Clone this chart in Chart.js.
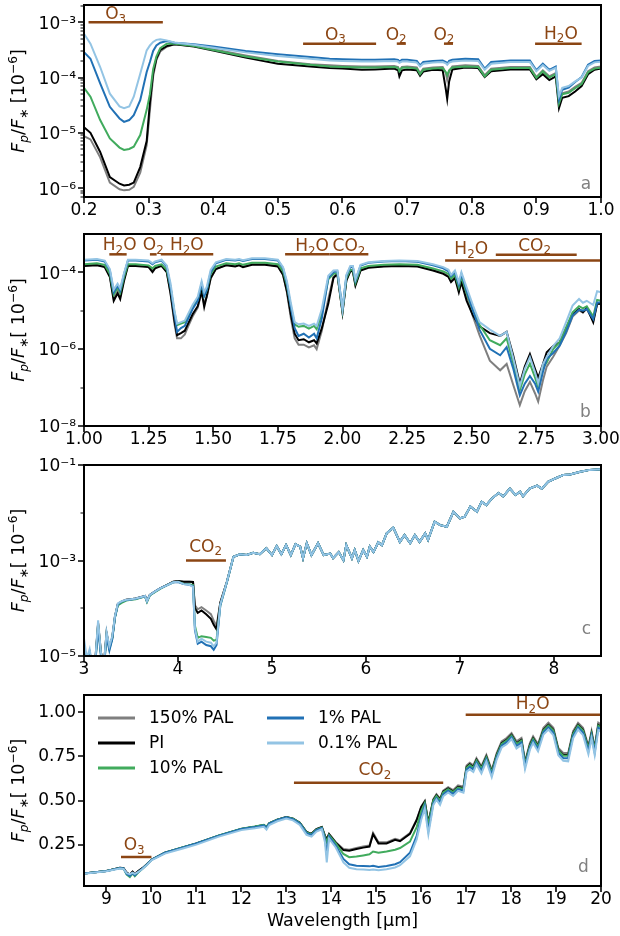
<!DOCTYPE html>
<html>
<head>
<meta charset="utf-8">
<script src="https://cdn.jsdelivr.net/npm/chart.js@4.4.1/dist/chart.umd.min.js"></script>
<style>
  html, body { margin: 0; padding: 0; background: #fff; }
  #wrap { position: relative; width: 620px; height: 936px; overflow: hidden; }
  canvas { position: absolute; left: 0; }
</style>
</head>
<body>
<div id="wrap">
  <canvas id="panelA" width="620" height="227" style="top:0px"></canvas>
  <canvas id="panelB" width="620" height="242" style="top:214px"></canvas>
  <canvas id="panelC" width="620" height="241" style="top:445px"></canvas>
  <canvas id="panelD" width="620" height="261" style="top:675px"></canvas>
</div>
<script>
const seriesNames = ['150% PAL', 'PI', '10% PAL', '1% PAL', '0.1% PAL'];
const seriesColors = ['#7f7f7f', '#000000', '#41ab5d', '#2171b5', '#93c4e4'];
const drawOrder = [4, 3, 2, 1, 0];

// ---- panel a : UV / visible ----
const waveA = [0.20,0.21,0.225,0.24,0.255,0.262,0.27,0.277,0.287,0.297,0.302,0.307,0.312,0.318,0.328,0.34,
  0.37,0.40,0.45,0.50,0.55,0.58,0.60,0.63,0.65,0.68,
  0.686,0.688,0.692,0.70,0.715,0.72,0.725,0.74,0.755,
  0.760,0.762,0.765,0.77,0.79,0.81,0.82,0.83,0.86,0.89,
  0.90,0.91,0.92,0.93,0.935,0.94,0.95,0.96,0.97,0.98,0.99,1.00];
const fluxA_150 = [8.7e-6,7.6e-6,3.6e-6,1.26e-6,9.5e-7,9.1e-7,9.3e-7,1.05e-6,1.9e-6,6.0e-6,2.6e-5,1.05e-4,2.09e-4,2.95e-4,3.6e-4,4.0e-4,
  3.72e-4,3.24e-4,2.51e-4,2.0e-4,1.74e-4,1.66e-4,1.62e-4,1.58e-4,1.58e-4,1.62e-4,
  1.55e-4,1.32e-4,1.55e-4,1.58e-4,1.52e-4,1.2e-4,1.45e-4,1.52e-4,1.55e-4,
  1.2e-4,9.0e-5,1.3e-4,1.58e-4,1.66e-4,1.62e-4,1.1e-4,1.45e-4,1.55e-4,1.55e-4,
  1.02e-4,1.35e-4,1.05e-4,1.2e-4,3.5e-5,5.2e-5,5.6e-5,6.8e-5,8.0e-5,1.3e-4,1.52e-4,1.58e-4];
const fluxA_PI = [1.26e-5,1.0e-5,4.5e-6,1.58e-6,1.2e-6,1.12e-6,1.15e-6,1.26e-6,2.4e-6,7.1e-6,3.5e-5,1.2e-4,2.19e-4,3.16e-4,3.7e-4,4.0e-4,
  3.63e-4,3.09e-4,2.29e-4,1.78e-4,1.58e-4,1.48e-4,1.45e-4,1.38e-4,1.4e-4,1.45e-4,
  1.35e-4,1.05e-4,1.35e-4,1.4e-4,1.35e-4,1.08e-4,1.28e-4,1.38e-4,1.35e-4,
  6.0e-5,4.1e-5,8.5e-5,1.4e-4,1.52e-4,1.48e-4,1.02e-4,1.3e-4,1.4e-4,1.4e-4,
  9.3e-5,1.15e-4,9.0e-5,1.05e-4,2.8e-5,4.3e-5,4.6e-5,5.6e-5,7.0e-5,1.15e-4,1.38e-4,1.45e-4];
const fluxA_10 = [6.5e-5,4.5e-5,1.7e-5,7.9e-6,5.4e-6,4.9e-6,5.1e-6,5.6e-6,9.1e-6,2.6e-5,5.0e-5,1.41e-4,2.4e-4,3.39e-4,4.07e-4,4.07e-4,
  3.72e-4,3.16e-4,2.4e-4,1.95e-4,1.7e-4,1.58e-4,1.55e-4,1.52e-4,1.52e-4,1.55e-4,
  1.5e-4,1.3e-4,1.5e-4,1.52e-4,1.45e-4,1.15e-4,1.38e-4,1.45e-4,1.48e-4,
  1.25e-4,1.1e-4,1.35e-4,1.52e-4,1.58e-4,1.55e-4,1.05e-4,1.38e-4,1.48e-4,1.48e-4,
  9.8e-5,1.3e-4,1.0e-4,1.15e-4,3.4e-5,5.0e-5,5.3e-5,6.4e-5,7.6e-5,1.25e-4,1.45e-4,1.5e-4];
const fluxA_1 = [2.88e-4,2.19e-4,7.8e-5,2.95e-5,1.82e-5,1.58e-5,1.7e-5,2.09e-5,3.9e-5,1.26e-4,1.91e-4,3.02e-4,3.8e-4,4.27e-4,4.57e-4,4.27e-4,
  3.98e-4,3.63e-4,3.02e-4,2.63e-4,2.34e-4,2.19e-4,2.14e-4,2.09e-4,2.09e-4,2.14e-4,
  2.09e-4,1.95e-4,2.09e-4,2.09e-4,2.0e-4,1.66e-4,1.91e-4,2.0e-4,2.04e-4,
  1.91e-4,1.78e-4,2.0e-4,2.09e-4,2.19e-4,2.14e-4,1.45e-4,1.91e-4,2.04e-4,2.04e-4,
  1.35e-4,1.78e-4,1.38e-4,1.58e-4,3.98e-5,6.0e-5,6.6e-5,8.3e-5,1.02e-4,1.7e-4,2.0e-4,2.04e-4];
const fluxA_01 = [6.2e-4,4.1e-4,1.55e-4,5.1e-5,3.0e-5,2.8e-5,3.0e-5,4.5e-5,1.17e-4,3.1e-4,3.8e-4,4.4e-4,4.8e-4,4.9e-4,4.7e-4,4.3e-4,
  3.9e-4,3.45e-4,2.85e-4,2.45e-4,2.18e-4,2.04e-4,1.99e-4,1.95e-4,1.95e-4,1.99e-4,
  1.95e-4,1.85e-4,1.95e-4,1.95e-4,1.86e-4,1.58e-4,1.78e-4,1.86e-4,1.9e-4,
  1.8e-4,1.7e-4,1.86e-4,1.95e-4,2.04e-4,1.99e-4,1.38e-4,1.78e-4,1.9e-4,1.9e-4,
  1.3e-4,1.68e-4,1.32e-4,1.5e-4,4.6e-5,6.5e-5,7.0e-5,8.5e-5,1.0e-4,1.62e-4,1.88e-4,1.92e-4];

// ---- panel b : near infrared ----
const waveB = [1.00,1.05,1.08,1.10,1.115,1.13,1.14,1.155,1.17,1.20,
  1.25,1.265,1.275,1.30,1.32,1.335,1.35,1.36,1.375,1.39,
  1.40,1.42,1.44,1.455,1.465,1.475,1.49,1.51,1.55,1.585,
  1.60,1.615,1.65,1.70,1.75,1.77,1.785,1.80,1.815,1.83,
  1.85,1.87,1.89,1.90,1.92,1.945,1.965,1.98,2.00,2.015,
  2.03,2.04,2.05,2.07,2.10,2.16,2.22,2.29,2.35,2.39,
  2.41,2.42,2.435,2.45,2.46,2.48,2.505,2.53,2.57,2.61,
  2.635,2.66,2.686,2.705,2.725,2.745,2.757,2.775,2.79,2.815,
  2.84,2.865,2.89,2.915,2.93,2.945,2.97,2.985,3.00];
const fluxB_150 = [1.5e-4,1.55e-4,1.4e-4,8.0e-5,2.1e-5,3.2e-5,2.3e-5,6.5e-5,1.5e-4,1.5e-4,
  1.4e-4,1.1e-4,1.3e-4,1.5e-4,1.05e-4,2.6e-5,4.5e-6,1.9e-6,1.9e-6,2.4e-6,
  3.5e-6,7.0e-6,1.2e-5,3.0e-5,1.5e-5,2.3e-5,6.8e-5,1.2e-4,1.55e-4,1.45e-4,
  1.55e-4,1.4e-4,1.6e-4,1.6e-4,1.45e-4,8.5e-5,3.0e-5,6.5e-6,1.9e-6,1.3e-6,
  1.3e-6,1.1e-6,1.25e-6,1.0e-6,3.0e-6,2.0e-5,7.5e-5,9.0e-5,9.0e-6,6.3e-5,
  1.1e-4,1.1e-4,4.8e-5,1.15e-4,1.35e-4,1.45e-4,1.5e-4,1.45e-4,1.15e-4,9.5e-5,
  8.0e-5,6.0e-5,7.5e-5,3.4e-5,6.0e-5,2.2e-5,7.0e-6,2.3e-6,5.0e-7,2.8e-7,
  4.1e-7,1.2e-7,3.5e-8,8.0e-8,1.4e-7,7.0e-8,4.3e-8,1.5e-7,3.5e-7,6.3e-7,
  1.23e-6,2.6e-6,7.0e-6,1.0e-5,9.0e-6,1.1e-5,5.5e-6,1.5e-5,1.5e-5];
const fluxB_PI = [1.45e-4,1.5e-4,1.35e-4,7.5e-5,1.8e-5,2.8e-5,2.0e-5,6.0e-5,1.45e-4,1.45e-4,
  1.35e-4,1.0e-4,1.25e-4,1.45e-4,1.0e-4,2.8e-5,5.5e-6,2.3e-6,2.6e-6,3.0e-6,
  4.2e-6,8.0e-6,1.3e-5,3.2e-5,1.25e-5,2.4e-5,7.0e-5,1.2e-4,1.5e-4,1.4e-4,
  1.5e-4,1.35e-4,1.55e-4,1.55e-4,1.4e-4,8.5e-5,3.2e-5,8.0e-6,2.5e-6,1.7e-6,
  1.8e-6,1.5e-6,1.7e-6,1.4e-6,3.5e-6,1.5e-5,7.0e-5,9.0e-5,9.0e-6,6.0e-5,
  1.05e-4,1.05e-4,4.5e-5,1.1e-4,1.3e-4,1.4e-4,1.45e-4,1.4e-4,1.1e-4,9.0e-5,
  7.5e-5,5.5e-5,7.0e-5,3.0e-5,5.5e-5,1.8e-5,7.4e-6,3.9e-6,2.6e-6,2.2e-6,
  2.8e-6,7.0e-7,1.25e-7,3.5e-7,7.4e-7,3.0e-7,1.8e-7,4.0e-7,8.3e-7,1.2e-6,
  1.5e-6,3.5e-6,8.0e-6,1.1e-5,9.0e-6,1.2e-5,5.0e-6,1.5e-5,1.5e-5];
const fluxB_10 = [1.6e-4,1.7e-4,1.55e-4,9.0e-5,2.6e-5,4.0e-5,2.9e-5,7.5e-5,1.6e-4,1.6e-4,
  1.5e-4,1.25e-4,1.45e-4,1.6e-4,1.15e-4,4.0e-5,9.0e-6,4.2e-6,4.6e-6,5.0e-6,
  6.5e-6,1.2e-5,1.9e-5,4.6e-5,2.4e-5,3.4e-5,9.0e-5,1.4e-4,1.7e-4,1.6e-4,
  1.7e-4,1.55e-4,1.75e-4,1.75e-4,1.6e-4,1.05e-4,4.5e-5,1.3e-5,4.4e-6,3.8e-6,
  4.0e-6,3.4e-6,4.0e-6,3.3e-6,8.5e-6,6.5e-5,9.0e-5,9.5e-5,1.0e-5,7.0e-5,
  1.15e-4,1.15e-4,5.2e-5,1.25e-4,1.45e-4,1.55e-4,1.6e-4,1.55e-4,1.25e-4,1.05e-4,
  9.0e-5,6.8e-5,8.5e-5,4.0e-5,7.5e-5,2.9e-5,1.0e-5,4.3e-6,1.7e-6,1.26e-6,
  1.9e-6,4.5e-7,8.5e-8,2.2e-7,4.2e-7,1.8e-7,1.0e-7,3.2e-7,4.5e-7,1.0e-6,
  1.5e-6,3.6e-6,9.0e-6,1.3e-5,1.15e-5,1.3e-5,7.0e-6,1.9e-5,1.8e-5];
const fluxB_1 = [2.0e-4,2.1e-4,1.9e-4,1.12e-4,3.0e-5,4.5e-5,3.3e-5,8.9e-5,2.0e-4,2.0e-4,
  1.9e-4,1.6e-4,1.8e-4,2.0e-4,1.4e-4,4.0e-5,7.9e-6,2.8e-6,3.5e-6,4.0e-6,
  5.6e-6,1.1e-5,1.8e-5,5.0e-5,2.4e-5,3.5e-5,1.0e-4,1.7e-4,2.1e-4,2.0e-4,
  2.1e-4,1.95e-4,2.2e-4,2.2e-4,2.0e-4,1.26e-4,5.0e-5,1.26e-5,3.5e-6,2.2e-6,
  2.5e-6,2.0e-6,2.5e-6,1.9e-6,6.3e-6,7.1e-5,1.0e-4,1.05e-4,1.12e-5,7.9e-5,
  1.35e-4,1.38e-4,6.0e-5,1.48e-4,1.74e-4,1.9e-4,1.95e-4,1.86e-4,1.5e-4,1.26e-4,
  1.05e-4,7.9e-5,1.0e-4,4.7e-5,8.9e-5,3.3e-5,1.0e-5,3.2e-6,1.02e-6,6.9e-7,
  1.12e-6,3.2e-7,6.3e-8,1.26e-7,2.0e-7,1.26e-7,7.8e-8,2.5e-7,5.6e-7,7.9e-7,
  1.23e-6,2.8e-6,7.4e-6,1.05e-5,1.0e-5,1.1e-5,6.0e-6,1.6e-5,1.66e-5];
const fluxB_01 = [2.1e-4,2.2e-4,2.0e-4,1.2e-4,3.5e-5,5.0e-5,3.8e-5,9.5e-5,2.1e-4,2.1e-4,
  2.0e-4,1.7e-4,1.9e-4,2.1e-4,1.5e-4,5.0e-5,1.0e-5,4.6e-6,5.0e-6,5.5e-6,
  7.5e-6,1.4e-5,2.3e-5,5.8e-5,3.0e-5,4.2e-5,1.15e-4,1.8e-4,2.2e-4,2.1e-4,
  2.2e-4,2.05e-4,2.3e-4,2.3e-4,2.1e-4,1.35e-4,5.8e-5,1.6e-5,5.0e-6,4.4e-6,
  4.6e-6,4.0e-6,4.6e-6,4.0e-6,1.1e-5,8.0e-5,1.1e-4,1.12e-4,1.1e-5,8.5e-5,
  1.45e-4,1.45e-4,6.5e-5,1.55e-4,1.8e-4,1.95e-4,2.0e-4,1.95e-4,1.6e-4,1.35e-4,
  1.15e-4,8.5e-5,1.1e-4,5.5e-5,1.0e-4,4.0e-5,1.35e-5,5.0e-6,3.2e-6,2.2e-6,
  2.8e-6,6.0e-7,1.1e-7,3.0e-7,6.2e-7,2.5e-7,1.3e-7,4.0e-7,6.3e-7,1.2e-6,
  1.9e-6,5.0e-6,1.35e-5,2.0e-5,1.6e-5,1.8e-5,1.4e-5,3.2e-5,3.0e-5];

// ---- panel c : 3 - 8.5 micron ----
const waveC = [3.00,3.03,3.06,3.09,3.12,3.15,3.18,3.21,3.24,3.27,3.30,3.33,3.36,3.40,3.45,3.50,3.55,3.60,3.65,3.67,
  3.70,3.75,3.81,3.88,3.95,4.00,4.06,4.12,4.16,4.18,4.21,4.25,4.30,4.35,4.38,4.41,4.45,4.52,
  4.59,4.66,4.73,4.80,4.87,4.94,5.00,5.05,5.10,5.15,5.20,5.25,
  5.30,5.33,5.37,5.42,5.49,5.55,5.62,5.65,5.71,5.76,
  5.79,5.85,5.88,5.92,5.97,6.01,6.04,6.08,6.13,6.17,
  6.22,6.29,6.36,6.41,6.47,6.52,6.57,6.63,6.66,6.73,
  6.79,6.86,6.93,7.00,7.05,7.11,7.18,7.23,7.28,7.34,
  7.41,7.46,7.53,7.59,7.64,7.67,7.74,7.82,7.87,7.94,
  8.03,8.10,8.17,8.28,8.38,8.50];
// short-wave part differs between runs, long-wave part (4.59 um onward) is shared
const fluxC_150_low = [1.5e-5,9e-6,1.2e-5,6e-6,8e-6,4.8e-5,1.2e-5,6e-6,3.0e-5,1.5e-5,2.4e-5,6.8e-5,1.22e-4,1.38e-4,1.5e-4,1.55e-4,1.6e-4,1.7e-4,1.8e-4,1.4e-4,
  1.9e-4,2.2e-4,2.6e-4,3.05e-4,3.6e-4,3.7e-4,3.6e-4,3.6e-4,3.55e-4,1.15e-4,9.5e-5,1.05e-4,9.0e-5,7.5e-5,5.5e-5,4.2e-5,1.3e-4,3.6e-4];
const fluxC_PI_low = [1.5e-5,9e-6,1.2e-5,6e-6,8e-6,4.8e-5,1.2e-5,6e-6,3.0e-5,1.5e-5,2.4e-5,6.8e-5,1.22e-4,1.38e-4,1.5e-4,1.55e-4,1.6e-4,1.7e-4,1.8e-4,1.4e-4,
  1.9e-4,2.2e-4,2.6e-4,3.05e-4,3.6e-4,3.7e-4,3.6e-4,3.6e-4,3.55e-4,1.0e-4,8.0e-5,9.0e-5,7.5e-5,6.0e-5,4.5e-5,3.6e-5,1.3e-4,3.6e-4];
const fluxC_10_low = [1.3e-5,8e-6,1.1e-5,5e-6,7e-6,4.5e-5,1.1e-5,5e-6,2.8e-5,1.4e-5,2.3e-5,6.5e-5,1.15e-4,1.3e-4,1.45e-4,1.5e-4,1.55e-4,1.65e-4,1.75e-4,1.35e-4,
  1.85e-4,2.15e-4,2.55e-4,3.0e-4,3.5e-4,3.6e-4,3.25e-4,3.2e-4,3.05e-4,4.3e-5,2.4e-5,2.6e-5,2.5e-5,2.4e-5,2.1e-5,2.2e-5,1.15e-4,3.5e-4];
const fluxC_1_low = [1.2e-5,7e-6,1.0e-5,5e-6,7e-6,4.0e-5,1.0e-5,5e-6,2.6e-5,1.3e-5,2.2e-5,6.5e-5,1.2e-4,1.38e-4,1.48e-4,1.53e-4,1.58e-4,1.68e-4,1.78e-4,1.4e-4,
  1.88e-4,2.2e-4,2.6e-4,3.0e-4,3.5e-4,3.55e-4,3.2e-4,3.1e-4,2.9e-4,3.5e-5,1.8e-5,2.0e-5,1.7e-5,1.6e-5,1.35e-5,1.7e-5,1.15e-4,3.5e-4];
const fluxC_01_low = [2.3e-5,9e-6,1.4e-5,6e-6,8e-6,5.6e-5,1.2e-5,6e-6,3.2e-5,1.6e-5,2.6e-5,7e-5,1.26e-4,1.4e-4,1.5e-4,1.55e-4,1.6e-4,1.7e-4,1.8e-4,1.4e-4,
  1.9e-4,2.2e-4,2.6e-4,3.0e-4,3.5e-4,3.6e-4,3.2e-4,3.1e-4,2.8e-4,3.8e-5,2.0e-5,2.3e-5,2.0e-5,1.9e-5,1.6e-5,1.9e-5,1.2e-4,3.6e-4];
const fluxC_tail = [1.2e-3,1.35e-3,1.3e-3,1.45e-3,1.35e-3,1.8e-3,1.3e-3,2.0e-3,1.35e-3,2.1e-3,1.3e-3,2.2e-3,
  1.95e-3,1.12e-3,2.3e-3,1.3e-3,2.3e-3,1.3e-3,1.4e-3,1.12e-3,1.5e-3,1.02e-3,
  2.1e-3,1.12e-3,1.66e-3,9.8e-4,1.66e-3,1.2e-3,1.95e-3,1.5e-3,2.4e-3,2.1e-3,
  3.7e-3,4.9e-3,2.45e-3,3.4e-3,2.3e-3,3.4e-3,2.45e-3,3.7e-3,2.7e-3,6.5e-3,
  5.5e-3,5.1e-3,1.05e-2,7.6e-3,8.3e-3,1.35e-2,1.05e-2,1.7e-2,1.45e-2,2.0e-2,
  2.6e-2,2.2e-2,3.2e-2,2.35e-2,2.75e-2,2.2e-2,3.2e-2,3.7e-2,3.2e-2,4.5e-2,
  5.4e-2,6.2e-2,6.3e-2,7.2e-2,7.9e-2,8.1e-2];

// ---- panel d : thermal infrared (linear) ----
const waveD = [8.5,9.0,9.3,9.38,9.45,9.52,9.58,9.63,9.7,9.8,
  9.9,10.0,10.3,10.7,11.0,11.5,12.0,12.3,12.5,12.56,
  12.62,12.8,13.0,13.15,13.3,13.45,13.56,13.67,13.79,13.86,
  13.9,13.95,14.1,14.27,14.4,14.56,14.71,14.85,14.93,15.05,
  15.23,15.42,15.53,15.75,15.9,16.0,16.08,16.16,16.27,16.34,
  16.42,16.49,16.6,16.71,16.82,16.94,17.01,17.08,17.16,17.23,
  17.34,17.45,17.57,17.68,17.79,17.9,18.01,18.12,18.23,18.31,
  18.42,18.49,18.6,18.72,18.83,18.94,19.05,19.16,19.27,19.38,
  19.49,19.6,19.72,19.79,19.86,19.94,20.0];
const fluxD_150 = [0.087,0.102,0.120,0.118,0.092,0.082,0.098,0.085,0.100,0.118,
  0.140,0.165,0.205,0.235,0.257,0.302,0.340,0.352,0.362,0.350,
  0.372,0.392,0.407,0.398,0.375,0.322,0.312,0.338,0.350,0.300,
  0.285,0.312,0.265,0.226,0.222,0.232,0.240,0.246,0.318,0.264,
  0.264,0.284,0.276,0.316,0.392,0.465,0.498,0.376,0.508,0.536,
  0.511,0.556,0.576,0.559,0.586,0.578,0.698,0.714,0.699,0.740,
  0.694,0.758,0.672,0.768,0.835,0.854,0.882,0.835,0.854,0.721,
  0.826,0.863,0.819,0.912,0.940,0.912,0.798,0.769,0.769,0.893,
  0.940,0.912,0.808,0.893,0.801,0.940,0.930];
const fluxD_PI = [0.087,0.102,0.120,0.118,0.092,0.082,0.098,0.085,0.100,0.118,
  0.140,0.165,0.205,0.235,0.257,0.302,0.340,0.352,0.362,0.350,
  0.372,0.392,0.407,0.398,0.375,0.322,0.312,0.338,0.350,0.300,
  0.280,0.310,0.262,0.220,0.216,0.226,0.234,0.240,0.310,0.258,
  0.258,0.278,0.270,0.312,0.390,0.462,0.494,0.372,0.503,0.530,
  0.505,0.550,0.569,0.552,0.578,0.570,0.690,0.705,0.690,0.730,
  0.685,0.748,0.663,0.758,0.824,0.843,0.871,0.824,0.843,0.711,
  0.815,0.852,0.808,0.900,0.928,0.900,0.787,0.758,0.758,0.881,
  0.928,0.900,0.797,0.881,0.790,0.928,0.918];
const fluxD_10 = [0.087,0.102,0.118,0.115,0.082,0.068,0.088,0.072,0.092,0.114,
  0.138,0.165,0.206,0.236,0.258,0.303,0.341,0.353,0.363,0.351,
  0.372,0.392,0.406,0.397,0.373,0.320,0.310,0.336,0.348,0.295,
  0.265,0.305,0.258,0.198,0.180,0.184,0.190,0.196,0.212,0.205,
  0.212,0.222,0.232,0.268,0.350,0.440,0.485,0.365,0.498,0.526,
  0.500,0.546,0.565,0.548,0.574,0.566,0.686,0.701,0.686,0.726,
  0.681,0.744,0.659,0.754,0.820,0.839,0.867,0.820,0.839,0.707,
  0.811,0.848,0.804,0.896,0.924,0.896,0.783,0.754,0.754,0.877,
  0.924,0.896,0.793,0.877,0.786,0.924,0.914];
const fluxD_1 = [0.087,0.102,0.119,0.116,0.085,0.074,0.090,0.077,0.095,0.116,
  0.139,0.165,0.205,0.235,0.257,0.302,0.340,0.350,0.360,0.346,
  0.370,0.390,0.405,0.395,0.370,0.316,0.306,0.333,0.345,0.285,
  0.200,0.298,0.245,0.170,0.140,0.132,0.130,0.128,0.132,0.125,
  0.130,0.140,0.152,0.205,0.300,0.410,0.470,0.330,0.485,0.515,
  0.488,0.535,0.556,0.538,0.565,0.556,0.676,0.690,0.676,0.716,
  0.668,0.734,0.646,0.744,0.810,0.829,0.858,0.808,0.828,0.694,
  0.800,0.838,0.792,0.886,0.914,0.884,0.770,0.740,0.740,0.866,
  0.914,0.884,0.780,0.866,0.772,0.912,0.902];
const fluxD_01 = [0.086,0.100,0.116,0.113,0.090,0.084,0.092,0.086,0.095,0.113,
  0.136,0.162,0.200,0.229,0.251,0.296,0.333,0.343,0.352,0.336,
  0.362,0.383,0.398,0.388,0.362,0.306,0.296,0.325,0.338,0.265,
  0.150,0.285,0.235,0.150,0.120,0.112,0.110,0.108,0.110,0.106,
  0.112,0.122,0.135,0.185,0.280,0.390,0.455,0.310,0.475,0.505,
  0.476,0.524,0.546,0.526,0.555,0.545,0.664,0.676,0.662,0.704,
  0.654,0.722,0.632,0.732,0.800,0.818,0.848,0.795,0.815,0.678,
  0.788,0.826,0.778,0.874,0.902,0.870,0.756,0.725,0.722,0.852,
  0.902,0.870,0.762,0.852,0.757,0.898,0.888];

// tick values
const xTicksA = [0.2,0.3,0.4,0.5,0.6,0.7,0.8,0.9,1.0];
const xTicksB = [1.0,1.25,1.5,1.75,2.0,2.25,2.5,2.75,3.0];
const xTicksC = [3,4,5,6,7,8];
const xTicksD = [9,10,11,12,13,14,15,16,17,18,19,20];
const yTicksA = [1e-6,1e-5,1e-4,1e-3];
const yTicksB = [1e-8,1e-6,1e-4];
const yTicksC = [1e-5,1e-3,1e-1];
const yTicksD = [0.25,0.5,0.75,1.0];

// absorption band markers
const bandsA = [
  { text: 'O_3', from: 0.207, to: 0.322, y: 1.0e-3, labelX: 0.249, lift: 3 },
  { text: 'O_3', from: 0.539, to: 0.652, y: 4.1e-4, labelX: 0.589, lift: 4 },
  { text: 'O_2', from: 0.684, to: 0.698, y: 4.1e-4, labelX: 0.683, lift: 4 },
  { text: 'O_2', from: 0.757, to: 0.771, y: 4.1e-4, labelX: 0.757, lift: 4 },
  { text: 'H_2O', from: 0.898, to: 0.970, y: 4.1e-4, labelX: 0.938, lift: 5 }
];
const bandsB = [
  { text: 'H_2O', from: 1.098, to: 1.165, y: 2.9e-4, labelX: 1.138, lift: 4 },
  { text: 'O_2', from: 1.255, to: 1.281, y: 2.9e-4, labelX: 1.268, lift: 4 },
  { text: 'H_2O', from: 1.297, to: 1.50, y: 2.9e-4, labelX: 1.398, lift: 4 },
  { text: 'H_2O', from: 1.778, to: 1.95, y: 2.9e-4, labelX: 1.882, lift: 3 },
  { text: 'CO_2', from: 1.95, to: 2.10, y: 2.9e-4, labelX: 2.025, lift: 3 },
  { text: 'H_2O', from: 2.397, to: 3.0, y: 2.0e-4, labelX: 2.498, lift: 6.5 },
  { text: 'CO_2', from: 2.593, to: 2.906, y: 2.85e-4, labelX: 2.743, lift: 4 }
];
const bandsC = [
  { text: 'CO_2', from: 4.085, to: 4.51, y: 1.0e-3, labelX: 4.293, lift: 9 }
];
const bandsD = [
  { text: 'O_3', from: 9.323, to: 10.0, y: 0.181, labelX: 9.616, lift: 6.5 },
  { text: 'CO_2', from: 13.17, to: 16.49, y: 0.601, labelX: 14.97, lift: 7.5 },
  { text: 'H_2O', from: 16.99, to: 20.0, y: 0.985, labelX: 18.48, lift: 5.5 }
];

Chart.defaults.font.family = '"DejaVu Sans", sans-serif';
Chart.defaults.font.size = 17;
Chart.defaults.color = '#000';

const FONT = '"DejaVu Sans"';
const BROWN = '#8b4513';
const supDigits = '⁰¹²³⁴⁵⁶⁷⁸⁹';

function powLabel(v) {
  const e = Math.round(Math.log10(v));
  const digits = String(Math.abs(e)).split('').map(d => supDigits[+d]).join('');
  return '10' + (e < 0 ? '⁻' : '') + digits;
}

function minorLog(lo, hi) {
  const out = [];
  for (let e = -9; e <= 0; e++) {
    for (let m = 2; m <= 9; m++) {
      const v = m * Math.pow(10, e);
      if (v > lo && v < hi) out.push(v);
    }
  }
  return out;
}

// text with sub/superscripts
function parseLabel(str) {
  const parts = [];
  for (let i = 0; i < str.length; i++) {
    if (str[i] === '_') { parts.push({ t: str[i + 1], sub: true }); i++; }
    else parts.push({ t: str[i] });
  }
  return parts;
}
function partFont(p, size) {
  const s = (p.sub || p.sup) ? size * 0.7 : size;
  return (p.it ? 'italic ' : '') + s + 'px ' + FONT;
}
function richWidth(ctx, parts, size) {
  let w = 0;
  parts.forEach(p => { ctx.font = partFont(p, size); w += ctx.measureText(p.t).width; });
  return w;
}
function drawRich(ctx, parts, x, y, size, align) {
  let cx = align === 'center' ? x - richWidth(ctx, parts, size) / 2 : x;
  ctx.textAlign = 'left';
  ctx.textBaseline = 'alphabetic';
  parts.forEach(p => {
    ctx.font = partFont(p, size);
    const dy = p.sub ? size * 0.22 : (p.sup ? -size * 0.42 : 0);
    ctx.fillText(p.t, cx, y + dy);
    cx += ctx.measureText(p.t).width;
  });
}

function yTitleParts(spaceFirst) {
  return [
    { t: 'F', it: true }, { t: 'p', it: true, sub: true }, { t: '/' },
    { t: 'F', it: true }, { t: '∗', sub: true },
    { t: spaceFirst ? ' [10' : '[ 10' }, { t: '−6', sup: true }, { t: ']' }
  ];
}

function decorPlugin(p) {
  return {
    id: 'decor' + p.id,
    afterDatasetsDraw(chart) {
      const ctx = chart.ctx, a = chart.chartArea;
      const xs = chart.scales.x, ys = chart.scales.y;
      ctx.save();

      // band markers
      ctx.strokeStyle = BROWN;
      ctx.fillStyle = BROWN;
      ctx.lineWidth = 2.5;
      p.bands.forEach(b => {
        const y = ys.getPixelForValue(b.y);
        ctx.beginPath();
        ctx.moveTo(xs.getPixelForValue(b.from), y);
        ctx.lineTo(xs.getPixelForValue(b.to), y);
        ctx.stroke();
        drawRich(ctx, parseLabel(b.text), xs.getPixelForValue(b.labelX), y - b.lift, 17, 'center');
      });

      // frame and ticks
      ctx.strokeStyle = '#000';
      ctx.lineWidth = 2;
      ctx.strokeRect(a.left, a.top, a.right - a.left, a.bottom - a.top);
      ctx.lineWidth = 1.6;
      ctx.beginPath();
      p.xTicks.forEach(v => {
        const x = Math.round(xs.getPixelForValue(v));
        ctx.moveTo(x, a.bottom); ctx.lineTo(x, a.bottom + 6);
      });
      p.yTicks.forEach(v => {
        const y = Math.round(ys.getPixelForValue(v));
        ctx.moveTo(a.left - 6, y); ctx.lineTo(a.left, y);
      });
      ctx.stroke();
      ctx.lineWidth = 1.1;
      ctx.beginPath();
      p.yMinor.forEach(v => {
        const y = Math.round(ys.getPixelForValue(v));
        ctx.moveTo(a.left - 3.5, y); ctx.lineTo(a.left, y);
      });
      ctx.stroke();

      // panel letter
      ctx.fillStyle = '#808080';
      ctx.font = '17px ' + FONT;
      ctx.textAlign = 'center';
      ctx.textBaseline = 'alphabetic';
      ctx.fillText(p.letter, a.right + p.letterAt[0], a.bottom + p.letterAt[1]);

      // y-axis title
      ctx.fillStyle = '#000';
      ctx.save();
      ctx.translate(24, (a.top + a.bottom) / 2);
      ctx.rotate(-Math.PI / 2);
      drawRich(ctx, yTitleParts(p.titleSpace), 0, 0, 17.5, 'center');
      ctx.restore();

      // legend
      if (p.legend) {
        const slots = [[14, 23], [14, 48], [14, 73], [183, 23], [183, 48]];
        ctx.font = '17px ' + FONT;
        ctx.textAlign = 'left';
        ctx.textBaseline = 'middle';
        chart.data.datasets.forEach((ds, k) => {
          const x = a.left + slots[k][0], y = a.top + slots[k][1];
          ctx.strokeStyle = ds.borderColor;
          ctx.lineWidth = 3;
          ctx.beginPath();
          ctx.moveTo(x, y); ctx.lineTo(x + 37, y);
          ctx.stroke();
          ctx.fillStyle = '#000';
          ctx.fillText(ds.label, x + 51, y + 1);
        });
      }
      ctx.restore();
    }
  };
}

function buildPanel(p) {
  const datasets = seriesNames.map((name, k) => ({
    label: name,
    data: p.wave.map((w, i) => ({ x: w, y: p.series[k][i] })),
    borderColor: seriesColors[k],
    backgroundColor: seriesColors[k],
    borderWidth: 2,
    pointRadius: 0,
    tension: 0,
    fill: false,
    order: drawOrder[k],
    clip: 0
  }));
  return new Chart(document.getElementById(p.id), {
    type: 'line',
    data: { datasets },
    options: {
      responsive: false,
      animation: false,
      devicePixelRatio: 1,
      events: [],
      layout: { padding: { left: 0, right: 19, top: p.padTop, bottom: 0 } },
      plugins: { legend: { display: false }, tooltip: { enabled: false } },
      scales: {
        x: {
          type: 'linear', min: p.xMin, max: p.xMax,
          grid: { display: false, drawTicks: false },
          border: { display: false },
          ticks: { padding: 3, maxRotation: 0, autoSkip: false, font: { size: 17 }, color: '#000',
                   callback: v => p.xFmt(v) },
          afterBuildTicks: s => { s.ticks = p.xTicks.map(v => ({ value: v })); },
          afterFit: s => { s.height = p.xAxisH; s.paddingLeft = 0; s.paddingRight = 0; },
          title: p.xTitle
            ? { display: true, text: p.xTitle, font: { size: 17.5 }, color: '#000', padding: { top: 0, bottom: 4 } }
            : { display: false }
        },
        y: {
          type: p.yType, min: p.yMin, max: p.yMax,
          grid: { display: false, drawTicks: false },
          border: { display: false },
          ticks: { padding: 8, font: { size: 17 }, color: '#000', labelOffset: p.yLabelOffset,
                   callback: v => p.yFmt(v) },
          afterBuildTicks: s => { s.ticks = p.yTicks.map(v => ({ value: v })); },
          afterFit: s => { s.width = 84; s.paddingTop = 0; s.paddingBottom = 0; }
        }
      }
    },
    plugins: [decorPlugin(p)]
  });
}

const panels = [
  { id: 'panelA', wave: waveA, series: [fluxA_150, fluxA_PI, fluxA_10, fluxA_1, fluxA_01],
    padTop: 5, xAxisH: 30, xMin: 0.2, xMax: 1.0, xTicks: xTicksA, xFmt: v => v.toFixed(1),
    yType: 'logarithmic', yMin: 6.9e-7, yMax: 2.05e-3, yTicks: yTicksA, yMinor: minorLog(6.9e-7, 2.05e-3),
    yFmt: powLabel, yLabelOffset: 2, titleSpace: true, bands: bandsA, letter: 'a', letterAt: [-15, -8.5] },
  { id: 'panelB', wave: waveB, series: [fluxB_150, fluxB_PI, fluxB_10, fluxB_1, fluxB_01],
    padTop: 20, xAxisH: 30, xMin: 1.0, xMax: 3.0, xTicks: xTicksB, xFmt: v => v.toFixed(2),
    yType: 'logarithmic', yMin: 1e-8, yMax: 9.8e-4, yTicks: yTicksB, yMinor: [1e-7, 1e-5],
    yFmt: powLabel, yLabelOffset: 2, titleSpace: false, bands: bandsB, letter: 'b', letterAt: [-15.5, -9] },
  { id: 'panelC', wave: waveC,
    series: [fluxC_150_low.concat(fluxC_tail), fluxC_PI_low.concat(fluxC_tail), fluxC_10_low.concat(fluxC_tail),
             fluxC_1_low.concat(fluxC_tail), fluxC_01_low.concat(fluxC_tail)],
    padTop: 20, xAxisH: 30, xMin: 3, xMax: 8.5, xTicks: xTicksC, xFmt: v => v.toFixed(0),
    yType: 'logarithmic', yMin: 1e-5, yMax: 1e-1, yTicks: yTicksC, yMinor: [1e-4, 1e-2],
    yFmt: powLabel, yLabelOffset: 2, titleSpace: false, bands: bandsC, letter: 'c', letterAt: [-14.5, -22.5] },
  { id: 'panelD', wave: waveD, series: [fluxD_150, fluxD_PI, fluxD_10, fluxD_1, fluxD_01],
    padTop: 20, xAxisH: 50, xMin: 8.5, xMax: 20, xTicks: xTicksD, xFmt: v => v.toFixed(0),
    xTitle: 'Wavelength [μm]',
    yType: 'linear', yMin: 0.017, yMax: 1.097, yTicks: yTicksD, yMinor: [],
    yFmt: v => v.toFixed(2), yLabelOffset: 0, titleSpace: false, bands: bandsD, letter: 'd', letterAt: [-17.5, -14],
    legend: true }
];

panels.forEach(buildPanel);
</script>
</body>
</html>
